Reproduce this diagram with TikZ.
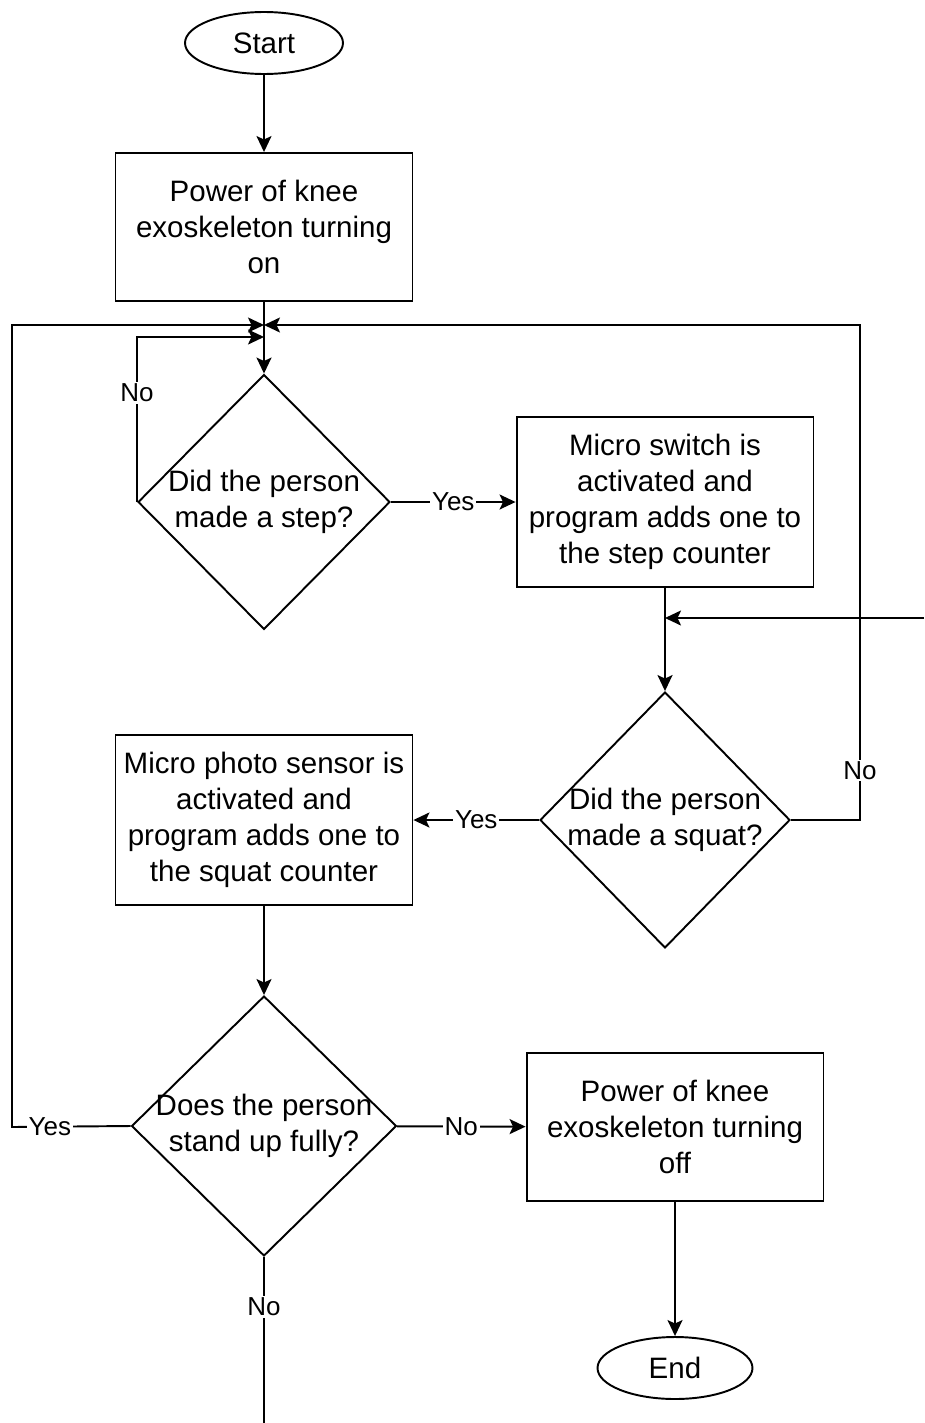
\documentclass[tikz,border=0pt]{standalone}
\usepackage{fontspec}
\setmainfont{Liberation Sans}
\usetikzlibrary{shapes.geometric,arrows.meta}
\begin{document}
\begin{tikzpicture}[x=0.02cm,y=-0.02cm,line width=1.1pt,
  terminal/.style={draw=black,ellipse,minimum width=3.16cm,minimum height=1.24cm,inner sep=0pt,font=\fontsize{16.8}{20.4}\selectfont},
  stepbox/.style={draw=black,rectangle,minimum width=5.94cm,inner sep=0pt,align=center,font=\fontsize{16.8}{20.4}\selectfont},
  decision/.style={draw=black,diamond,inner sep=0pt},
  qtext/.style={align=center,inner sep=0pt,font=\fontsize{16.8}{20.4}\selectfont},
  flow/.style={draw=black,-{Stealth[length=0.32cm,width=0.3cm,inset=0.07cm]}},
  lbl/.style={fill=white,inner sep=1pt,font=\fontsize{14.8}{17}\selectfont}]
\useasboundingbox (0,0) rectangle (924,1423);

% nodes:
\node[terminal] (start) at (264,43) {Start};
\node[stepbox,minimum height=2.96cm] (poweron) at (264,227) {Power of knee\\exoskeleton turning\\on};
\node[decision,minimum width=5.04cm,minimum height=5.1cm] (step) at (264,502) {};
\node[qtext] (steptext) at (step.center) {Did the person\\made a step?};
\node[stepbox,minimum height=3.4cm] (switch) at (665,502) {Micro switch is\\activated and\\program adds one to\\the step counter};
\node[decision,minimum width=5cm,minimum height=5.12cm] (squat) at (665,820) {};
\node[qtext] (squattext) at (squat.center) {Did the person\\made a squat?};
\node[stepbox,minimum height=3.4cm] (photo) at (264,820) {Micro photo sensor is\\activated and\\program adds one to\\the squat counter};
\node[decision,minimum width=5.3cm,minimum height=5.2cm] (stand) at (264,1126) {};
\node[qtext] (standtext) at (stand.center) {Does the person\\stand up fully?};
\node[stepbox,minimum height=2.96cm] (poweroff) at (675,1127) {Power of knee\\exoskeleton turning\\off};
\node[terminal,minimum width=3.1cm] (end) at (675,1368) {End};

% joints and loose ends:
\coordinate (merge) at (264,325);
\coordinate (mergelow) at (264,337);
\coordinate (joinsquat) at (665,618);
\coordinate (rightin) at (924,618);
\coordinate (rightloop) at (860,820);
\coordinate (leftloop) at (12,1127);
\coordinate (bottomout) at (264,1423);

% connectors:
\draw[flow] (start) -- (poweron);
\draw[flow] (poweron) -- (step);
\draw[flow] (step.west) |- node[lbl,pos=0.33]{No} (mergelow);
\draw[flow] (step) -- node[lbl]{Yes} (switch);
\draw[flow] (switch) -- (squat);
\draw[flow] (rightin) -- (joinsquat);
\draw[flow] (squat.east) -- (rightloop) |- node[lbl,pos=0.05]{No} (merge);
\draw[flow] (squat) -- node[lbl]{Yes} (photo);
\draw[flow] (photo) -- (stand);
\draw[flow] (stand.west) -- node[lbl,pos=0.68]{Yes} (leftloop) |- (merge);
\draw[flow] (stand) -- node[lbl]{No} (poweroff);
\draw[flow] (poweroff) -- (end);
\draw[black] (stand.south) -- node[lbl,pos=0.3]{No} (bottomout);

\end{tikzpicture}
\end{document}
